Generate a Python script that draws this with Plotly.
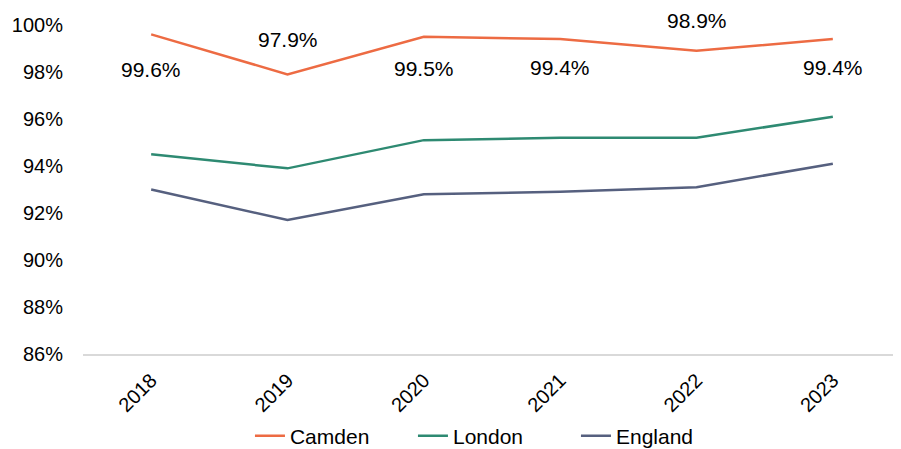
import plotly.graph_objects as go

years = ["2018", "2019", "2020", "2021", "2022", "2023"]
camden = [99.6, 97.9, 99.5, 99.4, 98.9, 99.4]
london = [94.5, 93.9, 95.1, 95.2, 95.2, 96.1]
england = [93.0, 91.7, 92.8, 92.9, 93.1, 94.1]

# label placement (style only): vertical pixel shift of each Camden label
label_shift = [-35, 35, -32, -28, 30, -28]

FONT = "Liberation Sans, Arial, sans-serif"
OFF = 8  # default page body margin in the html

fig = go.Figure()
fig.add_trace(go.Scatter(x=years, y=camden, mode="lines", name="Camden",
                         line=dict(color="#ED6B43", width=2.5)))
fig.add_trace(go.Scatter(x=years, y=london, mode="lines", name="London",
                         line=dict(color="#2E8A72", width=2.5)))
fig.add_trace(go.Scatter(x=years, y=england, mode="lines", name="England",
                         line=dict(color="#56607F", width=2.5)))

for i, (v, s) in enumerate(zip(camden, label_shift)):
    fig.add_annotation(x=i, y=v, text=f"{v:.1f}%", showarrow=False, yshift=s,
                       font=dict(family=FONT, size=21, color="#000000"))

W, H = 901 - OFF, 449 - OFF
fig.update_layout(
    width=W, height=H,
    margin=dict(l=83 - OFF, r=0, t=25 - OFF, b=95, autoexpand=False),
    paper_bgcolor="white", plot_bgcolor="white",
    font=dict(family=FONT, size=20, color="#000000"),
    showlegend=True,
    legend=dict(orientation="h", x=0.503, xanchor="center",
                yref="container", y=(449 - 436) / H, yanchor="middle",
                entrywidth=118, itemwidth=30, bgcolor="rgba(0,0,0,0)",
                font=dict(family=FONT, size=21), traceorder="normal"),
)
fig.update_xaxes(type="category", showgrid=False, tickangle=-45, automargin=False,
                 range=[-0.5, 5.5], ticklabelstandoff=5,
                 showline=True, linecolor="#D9D9D9", linewidth=1.5,
                 ticks="", tickfont=dict(family=FONT, size=20))
fig.update_yaxes(range=[86, 100], dtick=2, showgrid=False, zeroline=False,
                 automargin=False, ticklabelstandoff=19,
                 showline=False, ticksuffix="%", ticks="",
                 tickfont=dict(family=FONT, size=20))

fig.write_html("out.html")
